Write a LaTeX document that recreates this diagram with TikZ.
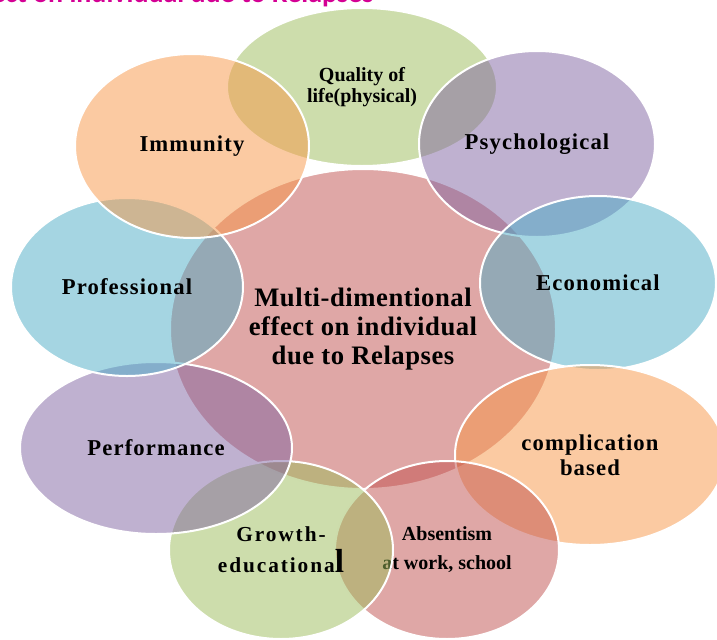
\documentclass[tikz,border=0pt]{standalone}
\usepackage{fontspec}
\setmainfont{Liberation Serif}
\newfontfamily\headfont{Carlito}
\usetikzlibrary{shapes.geometric}

\definecolor{accblue}{RGB}{75,172,198}
\definecolor{accred}{RGB}{192,80,77}
\definecolor{accgreen}{RGB}{155,187,89}
\definecolor{accpurple}{RGB}{128,100,162}
\definecolor{accorange}{RGB}{247,150,70}
\definecolor{headpink}{RGB}{212,0,148}

\tikzset{
  bubble/.style={ellipse, draw=white, line width=1.5pt, fill opacity=0.5, text opacity=1,
    inner sep=0pt, align=center,
    font=\fontsize{17}{19}\selectfont\bfseries\addfontfeature{LetterSpace=5}},
  radii/.style 2 args={minimum width=#1*1.5pt, minimum height=#2*1.5pt},
  smalltext/.style={font=\fontsize{15}{15.5}\selectfont\bfseries}
}

\begin{document}
\begin{tikzpicture}[x=0.75pt,y=-0.75pt]
\useasboundingbox (0,0) rectangle (717,639);
\clip (0,0) rectangle (717,639);
\node[anchor=base east,text=headpink,font=\headfont\bfseries\fontsize{21}{24}\selectfont] (heading) at (378,2.3)
  {Multi-dimentional effect on individual due to Relapses};
% hub first, then the ring clockwise from the top
\node[bubble,radii={193}{160},fill=accred,font=\fontsize{20}{21.6}\selectfont\bfseries\addfontfeature{LetterSpace=2}] (hub) at (363,329)
  {Multi-dimentional\\effect on individual\\due to Relapses};
\node[bubble,radii={135}{79},fill=accgreen,smalltext] (quality) at (362,87) {Quality of\\life(physical)};
\node[bubble,radii={118}{93},fill=accpurple] (psych) at (537,144) {Psychological};
\node[bubble,radii={118}{87},fill=accblue] (econ) at (598,283) {Economical};
\node[bubble,radii={135}{90},fill=accorange,font=\fontsize{17}{18.8}\selectfont\bfseries\addfontfeature{LetterSpace=5}] (compl) at (590,455) {complication\\based};
\node[bubble,radii={112}{89},fill=accred,font=\fontsize{15}{21.75}\selectfont\bfseries] (absent) at (447,550) {Absentism\\at work, school};
\node[bubble,radii={112}{89},fill=accgreen,font=\fontsize{16}{23}\selectfont\bfseries\addfontfeature{LetterSpace=9}] (growth) at (281,550)
  {Growth-\\educationa{\fontsize{25}{25}\selectfont l}};
\node[bubble,radii={136}{86},fill=accpurple] (perform) at (156,448) {Performance};
\node[bubble,radii={116}{89},fill=accblue] (prof) at (127,287) {Professional};
\node[bubble,radii={117}{92},fill=accorange] (immun) at (192,146) {Immunity};
\end{tikzpicture}
\end{document}
